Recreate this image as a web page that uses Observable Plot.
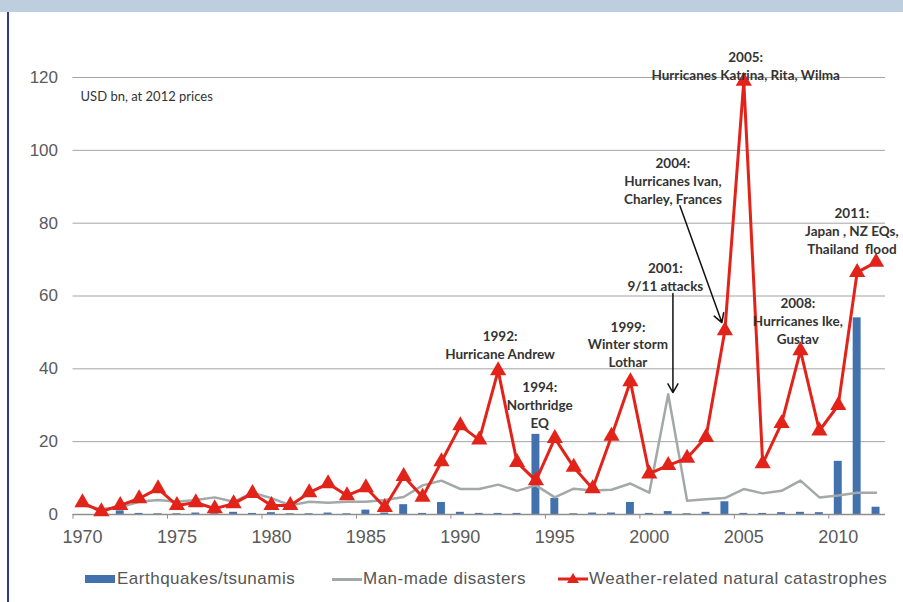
<!DOCTYPE html>
<html>
<head>
<meta charset="utf-8">
<script src="https://cdn.jsdelivr.net/npm/d3@7"></script>
<script src="https://cdn.jsdelivr.net/npm/@observablehq/plot@0.6"></script>
<style>
  html, body { margin: 0; padding: 0; background: #fff; }
  body { width: 903px; height: 602px; position: relative; overflow: hidden; font-family: "Liberation Sans", Arial, sans-serif; }
  #band { position: absolute; left: 0; top: 0; width: 903px; height: 12px; background: #bdcfdf; }
  #vline { position: absolute; left: 7px; top: 12px; width: 1.5px; height: 590px; background: #2d3b92; }
  #chart { position: absolute; left: 0; top: 12px; }
  #legend { position: absolute; left: 0; top: 562px; width: 903px; height: 40px; color: #555; font-size: 17px; letter-spacing: 0.5px; }
  .sw { position: absolute; }
  .lt { position: absolute; top: 7px; line-height: 20px; white-space: nowrap; }
</style>
</head>
<body>
<div id="band"></div>
<div id="chart"></div>
<div id="legend"></div>
<div id="vline"></div>
<script>
const years = [1970,1971,1972,1973,1974,1975,1976,1977,1978,1979,
               1980,1981,1982,1983,1984,1985,1986,1987,1988,1989,
               1990,1991,1992,1993,1994,1995,1996,1997,1998,1999,
               2000,2001,2002,2003,2004,2005,2006,2007,2008,2009,
               2010,2011,2012];
const earthquakes = [0,0.3,1,0.3,0.2,0.2,0.4,0.2,0.6,0.3,
                     0.5,0.2,0.2,0.4,0.2,1.2,0.4,2.7,0.3,3.3,
                     0.6,0.3,0.3,0.3,22,4.4,0.2,0.4,0.4,3.3,
                     0.3,0.8,0.2,0.6,3.5,0.3,0.3,0.5,0.6,0.5,
                     14.6,54,2];
const manMade = [2.5,1.5,2,3.5,4,3.5,4,4.7,3.5,6,
                 4.5,2.5,3.5,3.2,3.5,3.5,4,4.8,8,9.3,
                 7,7,8.2,6.5,8,4.7,7.1,6.6,6.8,8.5,
                 6,33,3.8,4.2,4.5,7,5.8,6.5,9.3,4.7,
                 5.2,6,6];
const weather = [3.3,0.8,2.5,4.4,7.1,2.5,3.3,1.6,3,5.8,
                 2.5,2.5,6,8.5,5.2,7.4,2,10.5,4.8,14.5,
                 24.4,20.5,39.5,14.3,9.3,20.9,13,7.1,21.5,36.5,
                 11.2,13.5,15.5,21.2,50.5,119,14,25,45,23,
                 30,66.5,69.3];
const yTicks = [0,20,40,60,80,100,120];
const xLabels = [1970,1975,1980,1985,1990,1995,2000,2005,2010];
const xTickMarks = [1969.5,1974.5,1979.5,1984.5,1989.5,1994.5,1999.5,2004.5,2009.5];
const seriesNames = ["Earthquakes/tsunamis","Man-made disasters","Weather-related natural catastrophes"];
const unitNote = "USD bn, at 2012 prices";
const annotations = [
  {year: 2005.1, value: 123.3, text: "2005:\nHurricanes Katrina, Rita, Wilma"},
  {year: 2001.25, value: 91.8, text: "2004:\nHurricanes Ivan,\nCharley, Frances"},
  {year: 2000.85, value: 65.3, text: "2001:\n9/11 attacks"},
  {year: 1998.87, value: 46.9, text: "1999:\nWinter storm\nLothar"},
  {year: 1992.1, value: 46.7, text: "1992:\nHurricane Andrew"},
  {year: 1994.2, value: 30.2, text: "1994:\nNorthridge\nEQ"},
  {year: 2007.86, value: 53.3, text: "2008:\nHurricanes Ike,\nGustav"},
  {year: 2010.72, value: 78.1, text: "2011:\nJapan , NZ EQs,\nThailand  flood"}
];
const arrows = [
  {x1: 2001.62, y1: 84.8, x2: 2003.84, y2: 52.7},
  {x1: 2001.25, y1: 60.7, x2: 2001.25, y2: 33.5}
];

const rows = years.map((y, i) => ({year: y, quake: earthquakes[i], man: manMade[i], weather: weather[i]}));

const colors = {quake: "#4271ad", man: "#a3a8a8", weather: "#e2231a"};

const chart = Plot.plot({
  width: 903,
  height: 550,
  marginTop: 65,
  marginBottom: 48,
  marginLeft: 72.5,
  marginRight: 18,
  style: {fontFamily: "'Liberation Sans', Arial, sans-serif", color: "#555", background: "transparent", overflow: "visible"},
  x: {domain: [1969.5, 2012.5], axis: null},
  y: {domain: [0, 120], axis: null},
  marks: [
    Plot.ruleY(yTicks.filter(d => d > 0), {stroke: "#a3a3a3", strokeWidth: 1}),
    Plot.axisY({ticks: yTicks, tickSize: 0, tickPadding: 15, fontSize: 17, fill: "#5a5a5a", tickFormat: d => String(d)}),
    Plot.axisX({ticks: xLabels, tickSize: 0, tickPadding: 16, fontSize: 18, fill: "#5a5a5a", tickFormat: d => String(d)}),
    Plot.rectY(rows, {x1: d => d.year - 0.21, x2: d => d.year + 0.21, y: "quake", fill: colors.quake}),
    Plot.ruleY([0], {stroke: "#8f8f8f", strokeWidth: 1.5}),
    Plot.ruleX(xTickMarks, {y1: 0, y2: -1.3, stroke: "#8f8f8f", strokeWidth: 1}),
    Plot.line(rows, {x: "year", y: "man", stroke: colors.man, strokeWidth: 2.5}),
    Plot.line(rows, {x: "year", y: "weather", stroke: colors.weather, strokeWidth: 3}),
    Plot.dot(rows, {x: "year", y: "weather", symbol: "triangle", r: 6, fill: colors.weather, stroke: null}),
    Plot.arrow(arrows, {x1: "x1", y1: "y1", x2: "x2", y2: "y2", stroke: "#111", strokeWidth: 1.5, headLength: 10}),
    Plot.text(annotations, {x: "year", y: "value", text: "text", lineAnchor: "middle", lineHeight: 1.33, fontSize: 13.5, fontWeight: "bold", fill: "#333", fontFamily: "Lato, 'Open Sans', sans-serif"}),
    Plot.text([unitNote], {x: 1969.9, y: 114.8, text: d => d, textAnchor: "start", fontSize: 13, fill: "#333", fontFamily: "Lato, 'Open Sans', sans-serif"})
  ]
});
document.getElementById("chart").appendChild(chart);

// legend
const legend = document.getElementById("legend");
const legendItems = [
  {swatch: `<div class="sw" style="left:85px;top:13px;width:30px;height:8px;background:${colors.quake}"></div>`, left: 117, name: seriesNames[0]},
  {swatch: `<div class="sw" style="left:332px;top:15.5px;width:30px;height:3px;background:${colors.man}"></div>`, left: 363, name: seriesNames[1]},
  {swatch: `<svg class="sw" style="left:558px;top:8px" width="30" height="18"><line x1="0" y1="9" x2="30" y2="9" stroke="${colors.weather}" stroke-width="3"/><path d="M15,3 L21,13 L9,13 Z" fill="${colors.weather}"/></svg>`, left: 589, name: seriesNames[2]}
];
legend.innerHTML = legendItems.map(it => it.swatch + `<span class="lt" style="left:${it.left}px">${it.name}</span>`).join("");
</script>
</body>
</html>
